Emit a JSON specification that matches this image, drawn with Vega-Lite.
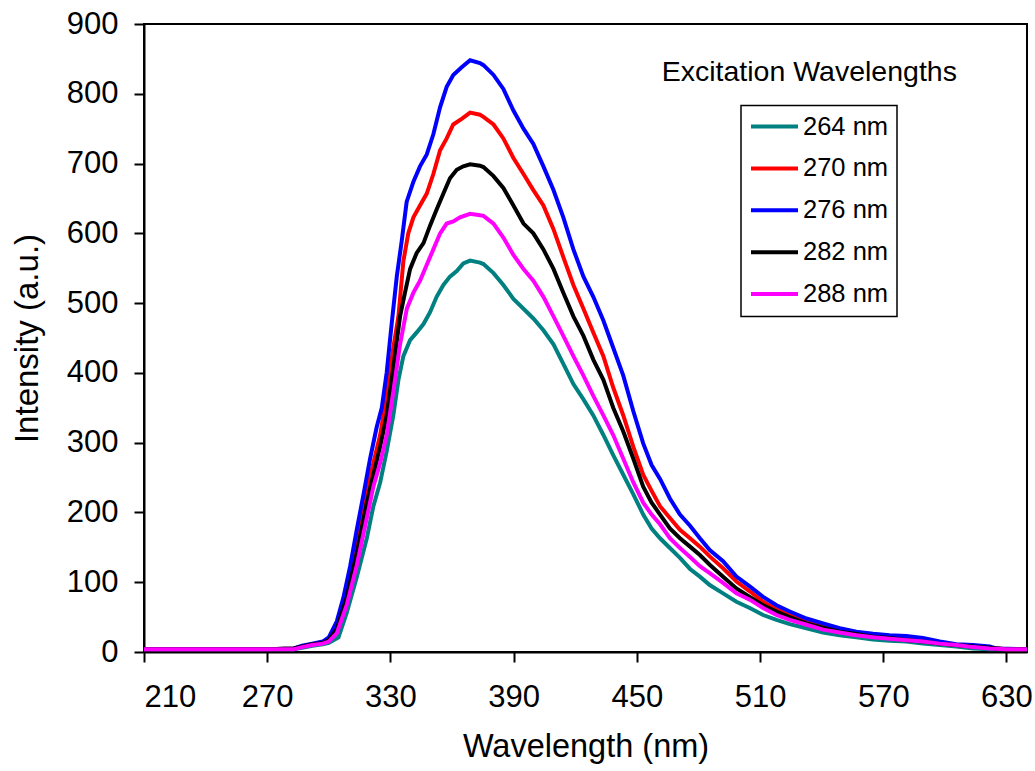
{
  "$schema": "https://vega.github.io/schema/vega-lite/v6.json",
  "width": 883,
  "height": 628,
  "autosize": {"type": "none"},
  "padding": {"left": 144, "top": 24, "right": 8, "bottom": 119},
  "background": "white",
  "config": {
    "font": "Liberation Sans",
    "view": {"stroke": "black", "strokeWidth": 2}
  },
  "layer": [
    {
      "data": {"values": [
        {"s":"264 nm","w":210,"v":4},{"s":"264 nm","w":240,"v":4},{"s":"264 nm","w":270,"v":4},{"s":"264 nm","w":283,"v":4},{"s":"264 nm","w":287,"v":6},{"s":"264 nm","w":292,"v":9},{"s":"264 nm","w":297,"v":11},{"s":"264 nm","w":300,"v":13},{"s":"264 nm","w":304.7,"v":21},{"s":"264 nm","w":308.7,"v":56},{"s":"264 nm","w":313.6,"v":107},{"s":"264 nm","w":318.5,"v":163},{"s":"264 nm","w":321.7,"v":209},{"s":"264 nm","w":325,"v":243},{"s":"264 nm","w":328.2,"v":288},{"s":"264 nm","w":331.4,"v":339},{"s":"264 nm","w":333.9,"v":390},{"s":"264 nm","w":336.3,"v":424},{"s":"264 nm","w":339.6,"v":447},{"s":"264 nm","w":342.8,"v":458},{"s":"264 nm","w":346.1,"v":470},{"s":"264 nm","w":349.3,"v":487},{"s":"264 nm","w":352.5,"v":509},{"s":"264 nm","w":355.8,"v":526},{"s":"264 nm","w":359,"v":538},{"s":"264 nm","w":362.3,"v":546},{"s":"264 nm","w":365.5,"v":557},{"s":"264 nm","w":368.8,"v":561},{"s":"264 nm","w":373.6,"v":558},{"s":"264 nm","w":375.3,"v":556},{"s":"264 nm","w":380.2,"v":543},{"s":"264 nm","w":385,"v":526},{"s":"264 nm","w":389.9,"v":506},{"s":"264 nm","w":394.8,"v":492},{"s":"264 nm","w":399.6,"v":478},{"s":"264 nm","w":404.5,"v":461},{"s":"264 nm","w":409.4,"v":441},{"s":"264 nm","w":414.2,"v":413},{"s":"264 nm","w":419.1,"v":384},{"s":"264 nm","w":424,"v":362},{"s":"264 nm","w":428.8,"v":339},{"s":"264 nm","w":433.7,"v":311},{"s":"264 nm","w":438.5,"v":282},{"s":"264 nm","w":443.4,"v":254},{"s":"264 nm","w":448.3,"v":226},{"s":"264 nm","w":453.1,"v":197},{"s":"264 nm","w":457.2,"v":177},{"s":"264 nm","w":461.3,"v":163},{"s":"264 nm","w":466.1,"v":149},{"s":"264 nm","w":471,"v":135},{"s":"264 nm","w":475.9,"v":119},{"s":"264 nm","w":480.7,"v":108},{"s":"264 nm","w":485.5,"v":96},{"s":"264 nm","w":492,"v":84},{"s":"264 nm","w":498.5,"v":72},{"s":"264 nm","w":505,"v":63},{"s":"264 nm","w":511.5,"v":53},{"s":"264 nm","w":518,"v":46},{"s":"264 nm","w":524.5,"v":40},{"s":"264 nm","w":532.6,"v":34},{"s":"264 nm","w":540.7,"v":28},{"s":"264 nm","w":548.8,"v":24},{"s":"264 nm","w":556.9,"v":21},{"s":"264 nm","w":565,"v":18},{"s":"264 nm","w":573.1,"v":16},{"s":"264 nm","w":581.2,"v":15},{"s":"264 nm","w":589.3,"v":12},{"s":"264 nm","w":597.5,"v":10},{"s":"264 nm","w":605.6,"v":8},{"s":"264 nm","w":613.7,"v":5},{"s":"264 nm","w":621.8,"v":4},{"s":"264 nm","w":640,"v":4},
        {"s":"270 nm","w":210,"v":4},{"s":"270 nm","w":240,"v":4},{"s":"270 nm","w":270,"v":4},{"s":"270 nm","w":283,"v":5},{"s":"270 nm","w":287,"v":8},{"s":"270 nm","w":292,"v":11},{"s":"270 nm","w":297,"v":14},{"s":"270 nm","w":300,"v":19},{"s":"270 nm","w":303.9,"v":38},{"s":"270 nm","w":308.7,"v":90},{"s":"270 nm","w":313.6,"v":158},{"s":"270 nm","w":318.5,"v":231},{"s":"270 nm","w":321.7,"v":271},{"s":"270 nm","w":325,"v":311},{"s":"270 nm","w":328.2,"v":367},{"s":"270 nm","w":331.4,"v":436},{"s":"270 nm","w":333.9,"v":481},{"s":"270 nm","w":336.3,"v":560},{"s":"270 nm","w":338.7,"v":600},{"s":"270 nm","w":341.2,"v":623},{"s":"270 nm","w":344.4,"v":640},{"s":"270 nm","w":347.7,"v":657},{"s":"270 nm","w":350.9,"v":685},{"s":"270 nm","w":354.2,"v":719},{"s":"270 nm","w":357.4,"v":736},{"s":"270 nm","w":360.6,"v":756},{"s":"270 nm","w":364.7,"v":764},{"s":"270 nm","w":368.8,"v":773},{"s":"270 nm","w":373.6,"v":770},{"s":"270 nm","w":375.3,"v":767},{"s":"270 nm","w":380.2,"v":756},{"s":"270 nm","w":385,"v":736},{"s":"270 nm","w":389.9,"v":708},{"s":"270 nm","w":394.8,"v":685},{"s":"270 nm","w":399.6,"v":662},{"s":"270 nm","w":404.5,"v":640},{"s":"270 nm","w":409.4,"v":606},{"s":"270 nm","w":414.2,"v":566},{"s":"270 nm","w":419.1,"v":526},{"s":"270 nm","w":424,"v":492},{"s":"270 nm","w":428.8,"v":458},{"s":"270 nm","w":433.7,"v":424},{"s":"270 nm","w":438.5,"v":379},{"s":"270 nm","w":443.4,"v":339},{"s":"270 nm","w":448.3,"v":294},{"s":"270 nm","w":453.1,"v":254},{"s":"270 nm","w":457.2,"v":231},{"s":"270 nm","w":461.3,"v":209},{"s":"270 nm","w":466.1,"v":192},{"s":"270 nm","w":471,"v":175},{"s":"270 nm","w":475.9,"v":163},{"s":"270 nm","w":480.7,"v":151},{"s":"270 nm","w":485.5,"v":137},{"s":"270 nm","w":492,"v":120},{"s":"270 nm","w":498.5,"v":101},{"s":"270 nm","w":505,"v":87},{"s":"270 nm","w":511.5,"v":72},{"s":"270 nm","w":518,"v":61},{"s":"270 nm","w":524.5,"v":53},{"s":"270 nm","w":532.6,"v":44},{"s":"270 nm","w":540.7,"v":36},{"s":"270 nm","w":548.8,"v":32},{"s":"270 nm","w":556.9,"v":27},{"s":"270 nm","w":565,"v":23},{"s":"270 nm","w":573.1,"v":21},{"s":"270 nm","w":581.2,"v":19},{"s":"270 nm","w":589.3,"v":16},{"s":"270 nm","w":597.5,"v":12},{"s":"270 nm","w":605.6,"v":10},{"s":"270 nm","w":613.7,"v":8},{"s":"270 nm","w":621.8,"v":6},{"s":"270 nm","w":630,"v":4},{"s":"270 nm","w":640,"v":4},
        {"s":"276 nm","w":210,"v":4},{"s":"276 nm","w":240,"v":4},{"s":"276 nm","w":270,"v":4},{"s":"276 nm","w":283,"v":5},{"s":"276 nm","w":287,"v":9},{"s":"276 nm","w":292,"v":12},{"s":"276 nm","w":297,"v":15},{"s":"276 nm","w":300,"v":21},{"s":"276 nm","w":303.9,"v":44},{"s":"276 nm","w":307.1,"v":78},{"s":"276 nm","w":310.4,"v":123},{"s":"276 nm","w":313.6,"v":175},{"s":"276 nm","w":316.9,"v":226},{"s":"276 nm","w":320.1,"v":277},{"s":"276 nm","w":323.3,"v":322},{"s":"276 nm","w":325.8,"v":350},{"s":"276 nm","w":328.2,"v":401},{"s":"276 nm","w":330.6,"v":470},{"s":"276 nm","w":333.1,"v":538},{"s":"276 nm","w":335.5,"v":589},{"s":"276 nm","w":337.9,"v":645},{"s":"276 nm","w":341.2,"v":674},{"s":"276 nm","w":344.4,"v":696},{"s":"276 nm","w":347.7,"v":713},{"s":"276 nm","w":350.9,"v":742},{"s":"276 nm","w":354.2,"v":781},{"s":"276 nm","w":357.4,"v":810},{"s":"276 nm","w":360.6,"v":827},{"s":"276 nm","w":364.7,"v":838},{"s":"276 nm","w":368.8,"v":848},{"s":"276 nm","w":373.6,"v":844},{"s":"276 nm","w":375.3,"v":841},{"s":"276 nm","w":380.2,"v":827},{"s":"276 nm","w":385,"v":807},{"s":"276 nm","w":389.9,"v":776},{"s":"276 nm","w":394.8,"v":750},{"s":"276 nm","w":399.6,"v":728},{"s":"276 nm","w":404.5,"v":696},{"s":"276 nm","w":409.4,"v":662},{"s":"276 nm","w":414.2,"v":623},{"s":"276 nm","w":419.1,"v":577},{"s":"276 nm","w":424,"v":538},{"s":"276 nm","w":428.8,"v":509},{"s":"276 nm","w":433.7,"v":475},{"s":"276 nm","w":438.5,"v":436},{"s":"276 nm","w":443.4,"v":396},{"s":"276 nm","w":448.3,"v":345},{"s":"276 nm","w":453.1,"v":299},{"s":"276 nm","w":457.2,"v":268},{"s":"276 nm","w":461.3,"v":248},{"s":"276 nm","w":466.1,"v":220},{"s":"276 nm","w":471,"v":197},{"s":"276 nm","w":475.9,"v":181},{"s":"276 nm","w":480.7,"v":163},{"s":"276 nm","w":485.5,"v":146},{"s":"276 nm","w":492,"v":130},{"s":"276 nm","w":498.5,"v":108},{"s":"276 nm","w":505,"v":94},{"s":"276 nm","w":511.5,"v":79},{"s":"276 nm","w":518,"v":67},{"s":"276 nm","w":524.5,"v":58},{"s":"276 nm","w":532.6,"v":48},{"s":"276 nm","w":540.7,"v":41},{"s":"276 nm","w":548.8,"v":34},{"s":"276 nm","w":556.9,"v":29},{"s":"276 nm","w":565,"v":26},{"s":"276 nm","w":573.1,"v":24},{"s":"276 nm","w":581.2,"v":23},{"s":"276 nm","w":589.3,"v":20},{"s":"276 nm","w":597.5,"v":15},{"s":"276 nm","w":605.6,"v":11},{"s":"276 nm","w":613.7,"v":10},{"s":"276 nm","w":621.8,"v":8},{"s":"276 nm","w":625,"v":5},{"s":"276 nm","w":640,"v":4},
        {"s":"282 nm","w":210,"v":4},{"s":"282 nm","w":240,"v":4},{"s":"282 nm","w":270,"v":4},{"s":"282 nm","w":283,"v":5},{"s":"282 nm","w":287,"v":8},{"s":"282 nm","w":292,"v":11},{"s":"282 nm","w":297,"v":13},{"s":"282 nm","w":300,"v":17},{"s":"282 nm","w":303.9,"v":33},{"s":"282 nm","w":308.7,"v":78},{"s":"282 nm","w":313.6,"v":141},{"s":"282 nm","w":318.5,"v":214},{"s":"282 nm","w":321.7,"v":254},{"s":"282 nm","w":325,"v":294},{"s":"282 nm","w":328.2,"v":339},{"s":"282 nm","w":331.4,"v":407},{"s":"282 nm","w":334.7,"v":481},{"s":"282 nm","w":337.1,"v":515},{"s":"282 nm","w":339.6,"v":549},{"s":"282 nm","w":342.8,"v":572},{"s":"282 nm","w":346.1,"v":586},{"s":"282 nm","w":349.3,"v":611},{"s":"282 nm","w":352.5,"v":634},{"s":"282 nm","w":355.8,"v":657},{"s":"282 nm","w":359,"v":679},{"s":"282 nm","w":362.3,"v":691},{"s":"282 nm","w":365.5,"v":696},{"s":"282 nm","w":368.8,"v":699},{"s":"282 nm","w":373.6,"v":697},{"s":"282 nm","w":375.3,"v":695},{"s":"282 nm","w":380.2,"v":682},{"s":"282 nm","w":385,"v":665},{"s":"282 nm","w":389.9,"v":640},{"s":"282 nm","w":394.8,"v":614},{"s":"282 nm","w":399.6,"v":600},{"s":"282 nm","w":404.5,"v":577},{"s":"282 nm","w":409.4,"v":549},{"s":"282 nm","w":414.2,"v":515},{"s":"282 nm","w":419.1,"v":481},{"s":"282 nm","w":424,"v":453},{"s":"282 nm","w":428.8,"v":419},{"s":"282 nm","w":433.7,"v":390},{"s":"282 nm","w":438.5,"v":350},{"s":"282 nm","w":443.4,"v":316},{"s":"282 nm","w":448.3,"v":277},{"s":"282 nm","w":453.1,"v":237},{"s":"282 nm","w":457.2,"v":214},{"s":"282 nm","w":461.3,"v":197},{"s":"282 nm","w":466.1,"v":177},{"s":"282 nm","w":471,"v":163},{"s":"282 nm","w":475.9,"v":151},{"s":"282 nm","w":480.7,"v":139},{"s":"282 nm","w":485.5,"v":125},{"s":"282 nm","w":492,"v":108},{"s":"282 nm","w":498.5,"v":91},{"s":"282 nm","w":505,"v":79},{"s":"282 nm","w":511.5,"v":67},{"s":"282 nm","w":518,"v":58},{"s":"282 nm","w":524.5,"v":50},{"s":"282 nm","w":532.6,"v":41},{"s":"282 nm","w":540.7,"v":35},{"s":"282 nm","w":548.8,"v":29},{"s":"282 nm","w":556.9,"v":26},{"s":"282 nm","w":565,"v":22},{"s":"282 nm","w":573.1,"v":20},{"s":"282 nm","w":581.2,"v":17},{"s":"282 nm","w":589.3,"v":15},{"s":"282 nm","w":597.5,"v":12},{"s":"282 nm","w":605.6,"v":10},{"s":"282 nm","w":613.7,"v":8},{"s":"282 nm","w":621.8,"v":6},{"s":"282 nm","w":630,"v":4},{"s":"282 nm","w":640,"v":4},
        {"s":"288 nm","w":210,"v":4},{"s":"288 nm","w":240,"v":4},{"s":"288 nm","w":270,"v":4},{"s":"288 nm","w":283,"v":4},{"s":"288 nm","w":287,"v":7},{"s":"288 nm","w":292,"v":10},{"s":"288 nm","w":297,"v":12},{"s":"288 nm","w":300,"v":15},{"s":"288 nm","w":303.9,"v":27},{"s":"288 nm","w":308.7,"v":67},{"s":"288 nm","w":313.6,"v":124},{"s":"288 nm","w":318.5,"v":192},{"s":"288 nm","w":321.7,"v":237},{"s":"288 nm","w":325,"v":271},{"s":"288 nm","w":328.2,"v":311},{"s":"288 nm","w":331.4,"v":373},{"s":"288 nm","w":334.7,"v":441},{"s":"288 nm","w":338,"v":492},{"s":"288 nm","w":341.2,"v":515},{"s":"288 nm","w":344.4,"v":532},{"s":"288 nm","w":347.7,"v":555},{"s":"288 nm","w":350.9,"v":577},{"s":"288 nm","w":354.2,"v":600},{"s":"288 nm","w":357.4,"v":614},{"s":"288 nm","w":360.6,"v":617},{"s":"288 nm","w":363.9,"v":623},{"s":"288 nm","w":368.8,"v":628},{"s":"288 nm","w":373.6,"v":626},{"s":"288 nm","w":375.3,"v":625},{"s":"288 nm","w":380.2,"v":614},{"s":"288 nm","w":385,"v":594},{"s":"288 nm","w":389.9,"v":569},{"s":"288 nm","w":394.8,"v":549},{"s":"288 nm","w":399.6,"v":532},{"s":"288 nm","w":404.5,"v":509},{"s":"288 nm","w":409.4,"v":481},{"s":"288 nm","w":414.2,"v":453},{"s":"288 nm","w":419.1,"v":424},{"s":"288 nm","w":424,"v":396},{"s":"288 nm","w":428.8,"v":367},{"s":"288 nm","w":433.7,"v":339},{"s":"288 nm","w":438.5,"v":311},{"s":"288 nm","w":443.4,"v":277},{"s":"288 nm","w":448.3,"v":243},{"s":"288 nm","w":453.1,"v":214},{"s":"288 nm","w":457.2,"v":197},{"s":"288 nm","w":461.3,"v":183},{"s":"288 nm","w":466.1,"v":163},{"s":"288 nm","w":471,"v":149},{"s":"288 nm","w":475.9,"v":136},{"s":"288 nm","w":480.7,"v":123},{"s":"288 nm","w":485.5,"v":113},{"s":"288 nm","w":492,"v":99},{"s":"288 nm","w":498.5,"v":84},{"s":"288 nm","w":505,"v":75},{"s":"288 nm","w":511.5,"v":63},{"s":"288 nm","w":518,"v":53},{"s":"288 nm","w":524.5,"v":46},{"s":"288 nm","w":532.6,"v":39},{"s":"288 nm","w":540.7,"v":32},{"s":"288 nm","w":548.8,"v":28},{"s":"288 nm","w":556.9,"v":24},{"s":"288 nm","w":565,"v":21},{"s":"288 nm","w":573.1,"v":19},{"s":"288 nm","w":581.2,"v":17},{"s":"288 nm","w":589.3,"v":15},{"s":"288 nm","w":597.5,"v":12},{"s":"288 nm","w":605.6,"v":10},{"s":"288 nm","w":613.7,"v":7},{"s":"288 nm","w":621.8,"v":5},{"s":"288 nm","w":630,"v":4},{"s":"288 nm","w":640,"v":4}
      ]},
      "mark": {"type": "line", "strokeWidth": 4, "clip": true},
      "encoding": {
        "x": {
          "field": "w", "type": "quantitative",
          "scale": {"domain": [210, 640], "nice": false, "zero": false},
          "axis": {
            "values": [210, 270, 330, 390, 450, 510, 570, 630],
            "grid": false, "tickSize": 10, "tickWidth": 2, "tickColor": "black",
            "domainWidth": 2, "domainColor": "black",
            "labelFontSize": 31, "labelColor": "black", "labelPadding": 20,
            "title": "Wavelength (nm)", "titleFontSize": 32.5, "titleFontWeight": "normal",
            "titleColor": "black", "titlePadding": 18
          }
        },
        "y": {
          "field": "v", "type": "quantitative",
          "scale": {"domain": [0, 900], "nice": false},
          "axis": {
            "values": [0, 100, 200, 300, 400, 500, 600, 700, 800, 900],
            "grid": false, "tickSize": 10, "tickWidth": 2, "tickColor": "black",
            "domainWidth": 2, "domainColor": "black",
            "labelFontSize": 31, "labelColor": "black", "labelPadding": 16,
            "title": "Intensity (a.u.)", "titleFontSize": 33, "titleFontWeight": "normal",
            "titleColor": "black", "titlePadding": 22
          }
        },
        "color": {
          "field": "s", "type": "nominal",
          "scale": {
            "domain": ["264 nm", "270 nm", "276 nm", "282 nm", "288 nm"],
            "range": ["#008080", "#FF0000", "#0000FF", "#000000", "#FF00FF"]
          },
          "legend": {
            "title": null, "orient": "none", "legendX": 597, "legendY": 81.5,
            "symbolType": "stroke", "symbolSize": 2209, "symbolStrokeWidth": 4,
            "labelFontSize": 25.5, "labelColor": "black", "labelOffset": 3,
            "clipHeight": 26, "rowPadding": 14.9, "padding": 8,
            "strokeColor": "black", "fillColor": "white",
            "encode": {"legend": {"update": {"strokeWidth": {"value": 1.5}}}}
          }
        }
      }
    },
    {
      "data": {"values": [{"t": "Excitation Wavelengths"}]},
      "mark": {"type": "text", "fontSize": 28.5, "align": "center", "baseline": "alphabetic", "color": "black", "font": "Liberation Sans"},
      "encoding": {
        "x": {"datum": 534},
        "y": {"datum": 819},
        "text": {"field": "t"}
      }
    }
  ]
}
